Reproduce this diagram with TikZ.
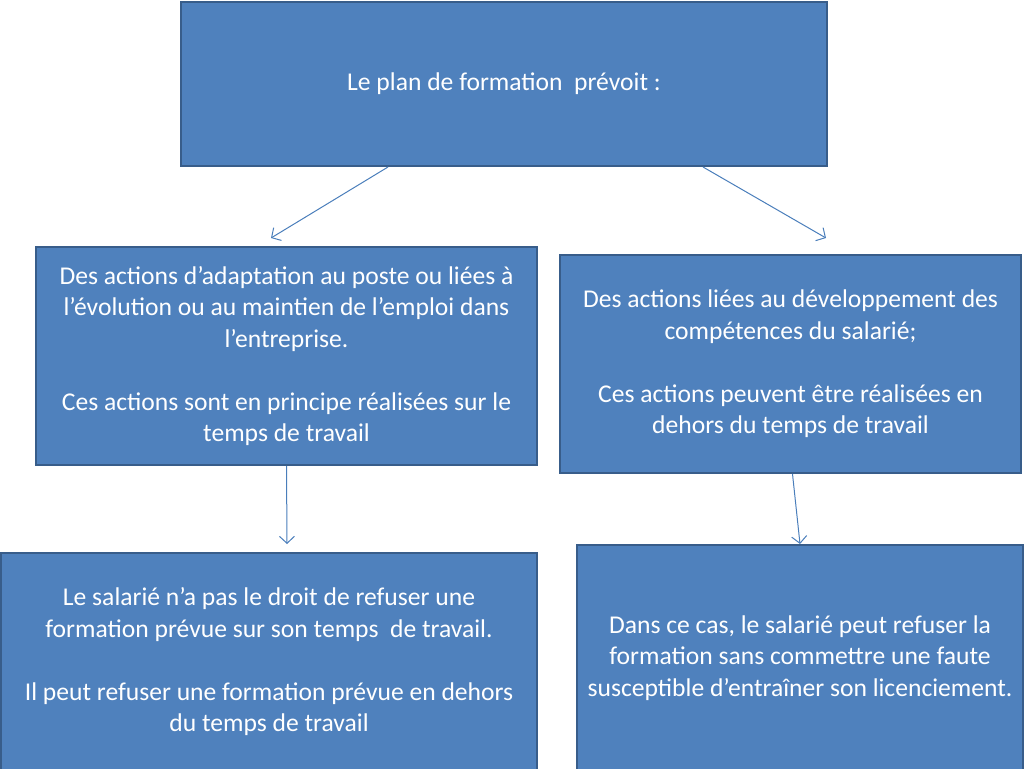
\documentclass[tikz,border=0pt]{standalone}
\usepackage{fontspec}
\setmainfont{Carlito}
\usetikzlibrary{arrows.meta}
\definecolor{boxfill}{HTML}{4F81BD}
\definecolor{boxline}{HTML}{385D8A}
\definecolor{arrowc}{HTML}{4A7EBB}
\begin{document}
\begin{tikzpicture}[x=1pt,y=-1pt,
  box/.style={draw=boxline, fill=boxfill, line width=2pt, inner sep=0pt, text=white, align=center,
    font=\fontsize{25.6}{31.5}\selectfont},
  conn/.style={draw=arrowc, line width=1pt, -{Straight Barb[length=7pt,width=15pt]}}]
\useasboundingbox (0,0) rectangle (1024,768);
\node[box, minimum width=646pt, minimum height=164pt] (top) at (504,84) {Le plan de formation\ \ prévoit :};
\node[box, minimum width=501pt, minimum height=218pt] (left) at (286.5,356)
  {Des actions d’adaptation au poste ou liées à\\ l’évolution ou au maintien de l’emploi dans\\ l’entreprise.\\[31.5pt]
   Ces actions sont en principe réalisées sur le\\ temps de travail};
\node[box, minimum width=461pt, minimum height=218pt] (right) at (790.5,364)
  {Des actions liées au développement des\\ compétences du salarié;\\[31.5pt]
   Ces actions peuvent être réalisées en\\ dehors du temps de travail};
\node[box, minimum width=536pt, minimum height=218pt] (bl) at (269,662)
  {Le salarié n’a pas le droit de refuser une\\ formation prévue sur son temps\ \ de travail.\\[31.5pt]
   Il peut refuser une formation prévue en dehors\\ du temps de travail};
\node[box, minimum width=446pt, minimum height=226pt] (br) at (800,658)
  {Dans ce cas, le salarié peut refuser la\\ formation sans commettre une faute\\ susceptible d’entraîner son licenciement.};
\coordinate (e1) at (271,238);
\coordinate (e2) at (826,238);
\coordinate (e3) at (287,544);
\coordinate (e4) at (800,544);
\draw[conn] ([xshift=-116pt]top.south) -- (e1);
\draw[conn] ([xshift=199pt]top.south) -- (e2);
\draw[conn] (left.south) -- (e3);
\draw[conn] ([xshift=2pt]right.south) -- (e4);
\end{tikzpicture}
\end{document}
